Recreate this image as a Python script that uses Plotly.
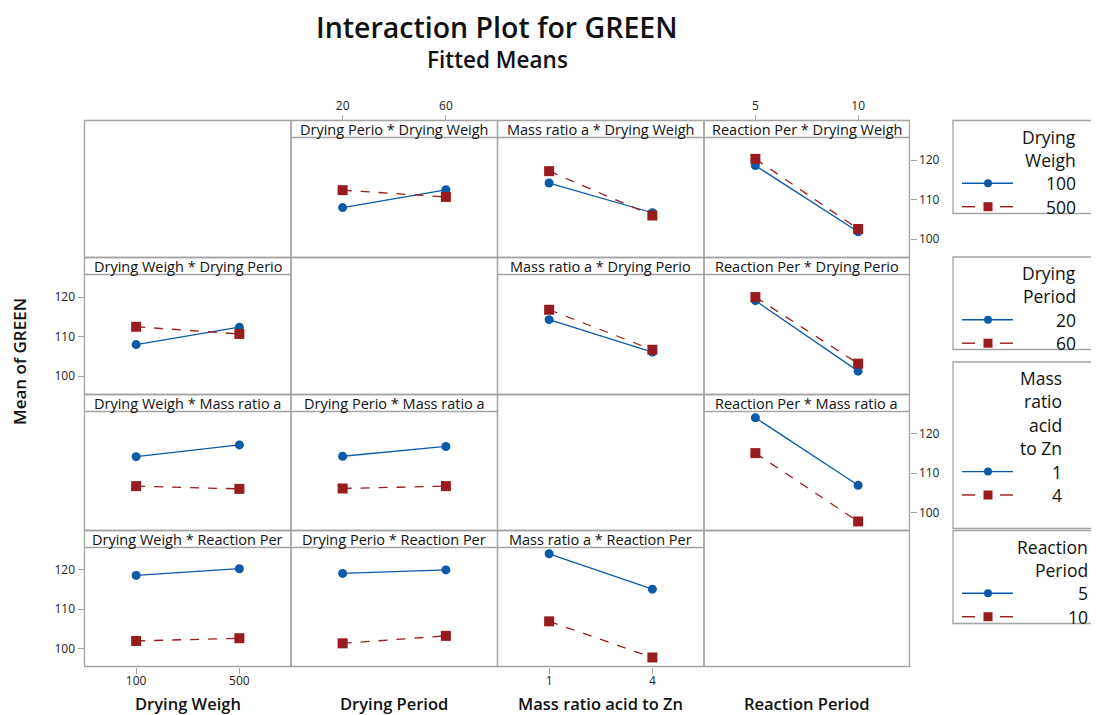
import plotly.graph_objects as go

# page body adds an 8px margin, so the figure is drawn smaller and shifted back
OFF = 8
W, H = 1099 - OFF, 715 - OFF

factor_names = ["Drying Weigh", "Drying Period", "Mass ratio acid to Zn", "Reaction Period"]
strip_names = ["Drying Weigh", "Drying Perio", "Mass ratio a", "Reaction Per"]
factor_levels = [["100", "500"], ["20", "60"], ["1", "4"], ["5", "10"]]
legend_heads = [["Drying", "Weigh"], ["Drying", "Period"], ["Mass", "ratio", "acid", "to Zn"], ["Reaction", "Period"]]
y_ticks = [100, 110, 120]

# fitted means: first index = level of first factor, second index = level of second factor
weigh_period = [[108.0, 112.5], [112.4, 110.7]]
weigh_ratio = [[114.2, 106.7], [117.2, 106.0]]
weigh_reaction = [[118.6, 101.9], [120.3, 102.6]]
period_ratio = [[114.3, 106.1], [116.8, 106.7]]
period_reaction = [[119.1, 101.3], [120.0, 103.2]]
ratio_reaction = [[124.1, 106.9], [115.1, 97.7]]

means = {
    (0, 1): weigh_period,
    (0, 2): weigh_ratio,
    (0, 3): weigh_reaction,
    (1, 2): period_ratio,
    (1, 3): period_reaction,
    (2, 3): ratio_reaction,
}


def fitted(i, a, j, b):
    if i < j:
        return means[(i, j)][a][b]
    return means[(j, i)][b][a]


BLUE = "#0b5aa8"
RED = "#981b1e"
GRID = "#a3a3a3"
FONT = "Open Sans"

col_x = [84.5, 291, 497.5, 704, 909.5]
row_y = [120.5, 257.5, 394.5, 530.5, 666.5]
strip_h = 17
y_range = [95.4, 125.7]


def px(x):
    return (x - OFF) / W


def py(y):
    return 1 - (y - OFF) / H


def label(text, x, y, size, xanchor="center", weight=400, angle=0):
    return dict(text=text, x=px(x), y=py(y), xref="paper", yref="paper",
                xanchor=xanchor, yanchor="middle", showarrow=False, textangle=angle,
                font=dict(family=FONT, size=size, color="#111", weight=weight))


fig = go.Figure()
shapes = []
annotations = []
layout_axes = {}

n = 0
for r in range(4):
    for c in range(4):
        x0, x1 = col_x[c], col_x[c + 1]
        y0, y1 = row_y[r], row_y[r + 1]
        shapes.append(dict(type="rect", xref="paper", yref="paper",
                           x0=px(x0), x1=px(x1), y0=py(y1), y1=py(y0),
                           line=dict(color=GRID, width=1.3)))
        if r == c:
            continue
        n += 1
        shapes.append(dict(type="line", xref="paper", yref="paper",
                           x0=px(x0), x1=px(x1), y0=py(y0 + strip_h), y1=py(y0 + strip_h),
                           line=dict(color=GRID, width=1.3)))
        annotations.append(label(f"{strip_names[c]} * {strip_names[r]}",
                                 (x0 + x1) / 2, y0 + strip_h / 2 + 0.5, 14.5))
        xs = factor_levels[c]
        for k in range(2):
            ys = [fitted(r, k, c, b) for b in range(2)]
            fig.add_trace(go.Scatter(
                x=xs, y=ys, xaxis=f"x{n}", yaxis=f"y{n}", mode="lines+markers",
                cliponaxis=False, showlegend=False,
                line=dict(color=BLUE if k == 0 else RED, width=1.3,
                          dash="solid" if k == 0 else "dash"),
                marker=dict(symbol="circle" if k == 0 else "square",
                            size=9 if k == 0 else 10,
                            color=BLUE if k == 0 else RED),
            ))
        xa = dict(domain=[px(x0), px(x1)], anchor=f"y{n}", type="category",
                  range=[-0.5, 1.5], showgrid=False, zeroline=False, showline=False,
                  showticklabels=False, ticks="")
        ya = dict(domain=[py(y1), py(y0 + strip_h)], anchor=f"x{n}", range=y_range,
                  showgrid=False, zeroline=False, showline=False,
                  showticklabels=False, ticks="")
        tick_style = dict(showticklabels=True, ticks="outside", ticklen=6, tickcolor=GRID,
                          tickwidth=1.2, tickfont=dict(family=FONT, size=12, color="#222"))
        if r == 0 and c in (1, 3):
            xa.update(tick_style, side="top", anchor="free", position=py(y0))
        if r == 3 and c in (0, 2):
            xa.update(tick_style, side="bottom", ticklabelstandoff=-3)
        if c == 0 and r in (1, 3):
            ya.update(tick_style, tickvals=y_ticks, side="left")
        if c == 3 and r in (0, 2):
            ya.update(tick_style, tickvals=y_ticks, side="right")
        layout_axes[f"xaxis{n}"] = xa
        layout_axes[f"yaxis{n}"] = ya

# axis titles below the columns
for c in range(4):
    annotations.append(label(factor_names[c], (col_x[c] + col_x[c + 1]) / 2, 703, 16.5, weight=600))

annotations.append(label("Mean of GREEN", 19, 362, 17, weight=600, angle=-90))
annotations.append(label("Interaction Plot for GREEN", 497, 27, 28.5, weight=600))
annotations.append(label("Fitted Means", 497, 59, 22.5, weight=600))

# legend boxes on the right, one per factor
legend_boxes = [(120.5, 213.5, 1078), (257, 349.5, 1078), (362, 528.5, 1064), (530.5, 623.5, 1090)]
for f, (top, bottom, tx) in enumerate(legend_boxes):
    shapes.append(dict(type="rect", xref="paper", yref="paper",
                       x0=px(953), x1=px(1110), y0=py(bottom), y1=py(top),
                       line=dict(color=GRID, width=1.3)))
    lines = legend_heads[f] + factor_levels[f]
    for i, txt in enumerate(lines):
        yy = top + 16 + i * 23.4
        annotations.append(label(txt, tx, yy, 17.5, xanchor="right"))
        k = i - len(legend_heads[f])
        if k == 0:
            shapes.append(dict(type="line", xref="paper", yref="paper",
                               x0=px(962), x1=px(1013), y0=py(yy), y1=py(yy),
                               line=dict(color=BLUE, width=1.4)))
            shapes.append(dict(type="circle", xref="paper", yref="paper",
                               x0=px(984), x1=px(992), y0=py(yy + 4), y1=py(yy - 4),
                               fillcolor=BLUE, line=dict(color=BLUE, width=0)))
        elif k == 1:
            for a, b in ((962, 975), (1000, 1013)):
                shapes.append(dict(type="line", xref="paper", yref="paper",
                                   x0=px(a), x1=px(b), y0=py(yy), y1=py(yy),
                                   line=dict(color=RED, width=1.4)))
            shapes.append(dict(type="rect", xref="paper", yref="paper",
                               x0=px(983.5), x1=px(992.5), y0=py(yy + 4.5), y1=py(yy - 4.5),
                               fillcolor=RED, line=dict(color=RED, width=0)))

fig.update_layout(
    width=W,
    height=H,
    autosize=False,
    margin=dict(l=0, r=0, t=0, b=0),
    paper_bgcolor="white",
    plot_bgcolor="white",
    showlegend=False,
    shapes=shapes,
    annotations=annotations,
    **layout_axes,
)

fig.write_html("out.html")
